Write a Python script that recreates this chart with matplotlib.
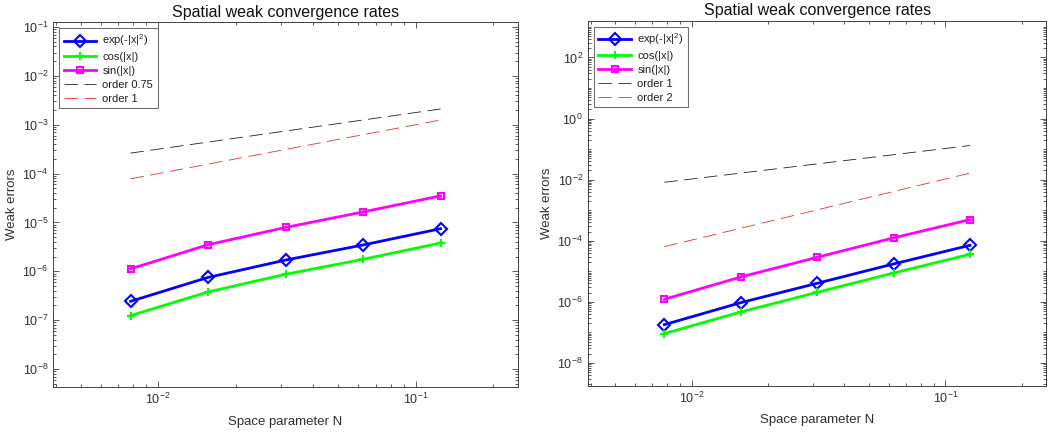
import numpy as np
import matplotlib
matplotlib.use("Agg")
import matplotlib.pyplot as plt
from matplotlib.ticker import FixedLocator, LogFormatterMathtext, NullFormatter

plt.rcParams['font.family'] = ['Liberation Sans', 'DejaVu Sans']
plt.rcParams['mathtext.fontset'] = 'custom'
plt.rcParams['mathtext.rm'] = 'Liberation Sans'

# space step sizes
h = [1/128, 1/64, 1/32, 1/16, 1/8]

# left panel: weak errors
exp_left = [2.43e-7, 7.5e-7, 1.7e-6, 3.46e-6, 7.46e-6]
cos_left = [1.24e-7, 3.78e-7, 8.7e-7, 1.76e-6, 3.8e-6]
sin_left = [1.12e-6, 3.5e-6, 7.9e-6, 1.64e-5, 3.5e-5]
ref_left = [("order 0.75", 0.01, 0.75), ("order 1", 0.01, 1.0)]

# right panel: weak errors
exp_right = [1.79e-7, 9.4e-7, 4.05e-6, 1.74e-5, 7.1e-5]
cos_right = [9.1e-8, 4.66e-7, 2.05e-6, 8.8e-6, 3.6e-5]
sin_right = [1.21e-6, 6.5e-6, 2.87e-5, 1.24e-4, 4.92e-4]
ref_right = [("order 1", 1.05, 1.0), ("order 2", 1.05, 2.0)]

axc = '#404040'
txc = '#303030'

fig = plt.figure(figsize=(10.48, 4.34), dpi=100)
ax1 = fig.add_axes([0.0506, 0.108, 0.4437, 0.841])
ax2 = fig.add_axes([0.561, 0.111, 0.4375, 0.841])


def draw(ax, e, c, s, refs, ylim, ymaj):
    x = np.array(h)
    ax.loglog(x, e, color='#0000ff', lw=2, marker='D', ms=6, mfc='none',
              mec='#0000ff', mew=1.5, label=r'exp(-|x|$^2$)')
    ax.loglog(x, c, color='#00ff00', lw=2, marker='+', ms=6, mew=1.5,
              label='cos(|x|)')
    ax.loglog(x, s, color='#ff00ff', lw=2, marker='s', ms=5, mfc='none',
              mec='#ff00ff', mew=1.5, label='sin(|x|)')
    cols = ['#202020', '#e03030']
    for (lab, C, p), col in zip(refs, cols):
        ax.loglog(x, C * x ** p, color=col, lw=0.6, dashes=(16, 8), label=lab)
    ax.set_xlim(1/256, 1/4)
    ax.set_ylim(*ylim)
    ax.yaxis.set_major_locator(FixedLocator(ymaj))
    lo, hi = int(np.floor(np.log10(ylim[0]))), int(np.ceil(np.log10(ylim[1])))
    minors = [k * 10.0 ** d for d in range(lo, hi + 1) for k in range(1, 10)]
    minors = [m for m in minors if m not in ymaj]
    ax.yaxis.set_minor_locator(FixedLocator(minors))
    ax.yaxis.set_minor_formatter(NullFormatter())
    ax.yaxis.set_major_formatter(LogFormatterMathtext())
    ax.tick_params(which='both', direction='in', top=True, right=True,
                   colors=axc, labelcolor=txc, labelsize=9, width=0.6)
    ax.tick_params(which='major', length=4)
    ax.tick_params(which='minor', length=2)
    for sp in ax.spines.values():
        sp.set_color(axc)
        sp.set_linewidth(0.7)
    ax.set_title('Spatial weak convergence rates', fontsize=11.5, color='#111111', pad=4)
    ax.set_xlabel('Space parameter N', fontsize=9.5, color=txc, labelpad=6)
    ax.set_ylabel('Weak errors', fontsize=9.5, color=txc, labelpad=3)
    leg = ax.legend(loc='upper left', fontsize=8, handlelength=2.9,
                    fancybox=False, framealpha=1, borderaxespad=0.55,
                    labelspacing=0.35, handletextpad=0.6, borderpad=0.4)
    leg.get_frame().set_edgecolor('#707070')
    leg.get_frame().set_linewidth(0.8)
    for t in leg.get_texts():
        t.set_color('#202020')


draw(ax1, exp_left, cos_left, sin_left, ref_left,
     (10 ** -8.37, 10 ** -0.9), [10.0 ** k for k in range(-8, 0)])
draw(ax2, exp_right, cos_right, sin_right, ref_right,
     (10 ** -8.75, 10 ** 3.2), [10.0 ** k for k in range(-8, 3, 2)])

fig.savefig('out.png', dpi=100)
